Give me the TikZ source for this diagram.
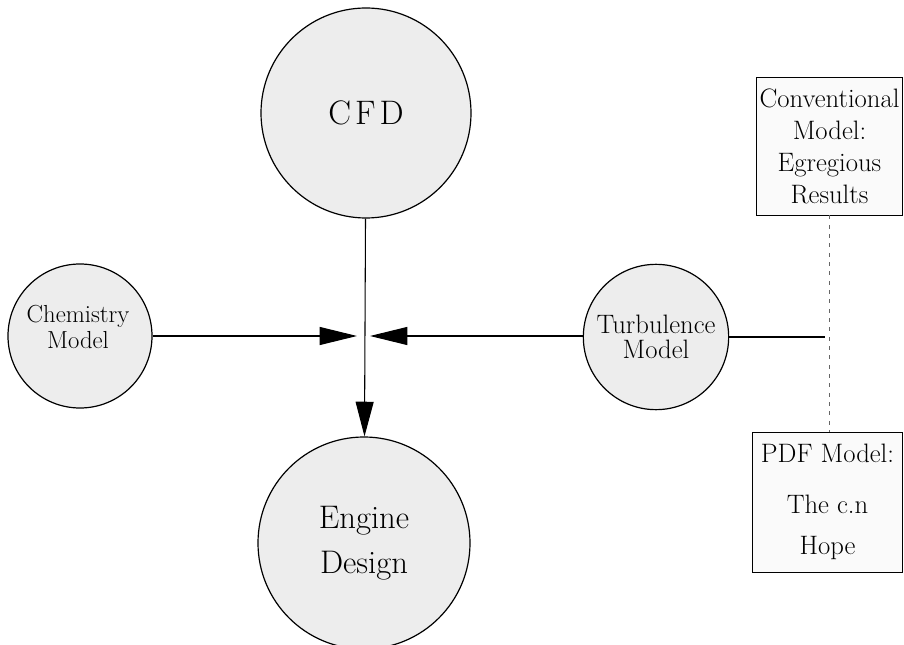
\documentclass[tikz,border=0pt]{standalone}
\usetikzlibrary{arrows.meta}
\begin{document}
\begin{tikzpicture}[x=0.75pt,y=-0.75pt,
  bubble/.style={circle, draw, line width=0.9pt, fill=black!7, inner sep=0pt, align=center},
  notebox/.style={rectangle, draw, line width=0.7pt, fill=black!2, inner sep=0pt, align=center,
    font=\fontsize{20}{24}\selectfont},
  link/.style={line width=0.8pt},
  bighead/.style={-{Triangle[length=28pt,width=13.5pt]}},
  faint/.style={line width=0.5pt, black!60, dash pattern=on 3pt off 4pt}]
\useasboundingbox (0,0) rectangle (904,645);

% the four process bubbles
\node[bubble, minimum size=157.5pt, font=\fontsize{25.5}{28}\selectfont] (cfd) at (366,113) {C\kern3pt F\kern3pt D};
\node[bubble, minimum size=159pt, font=\fontsize{24.5}{34}\selectfont] (eng) at (364,543) {Engine\\Design};
\node[bubble, minimum size=108pt] (chem) at (80,336) {};
\node[align=center, inner sep=0pt, font=\fontsize{18.5}{20}\selectfont] (chemtext) at (78,327) {Chemistry\\Model};
\node[bubble, minimum size=109pt, font=\fontsize{20}{18.5}\selectfont] (turb) at (656,337) {Turbulence\\Model};

% the two alternative turbulence models
\node[notebox, minimum width=110pt, minimum height=103.5pt] (conv) at (829.5,146)
  {Conventional\\Model:\\Egregious\\Results};
\node[notebox, minimum width=113pt, minimum height=105pt] (pdf) at (827.5,502)
  {PDF Model:\\[14pt]The c.n\\[7pt]Hope};

% meeting point of the inputs
\coordinate (jl) at (357,336);
\coordinate (jr) at (370,336);
\coordinate (tend) at (825,337);

\draw[link, bighead] (chem.east) -- (jl);
\draw[link, bighead] (turb.west |- jr) -- (jr);
\draw[link, -{Triangle[length=26pt,width=13.5pt]}] (cfd) -- (eng);
\draw[link] (turb.east) -- (tend);
\draw[faint] (conv.south) -- (conv.south |- pdf.north);
\end{tikzpicture}
\end{document}
